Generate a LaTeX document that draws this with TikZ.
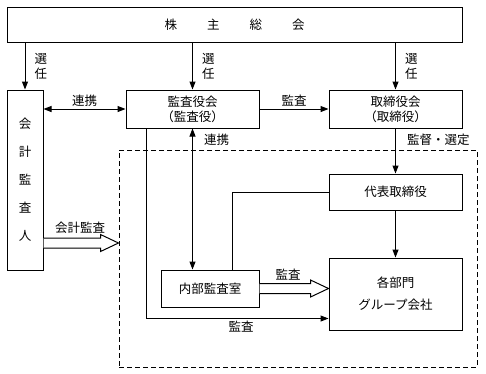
\documentclass[tikz,border=0pt]{standalone}
\usepackage{fontspec}
\setmainfont{Noto Sans CJK JP}
\usetikzlibrary{arrows.meta,positioning,calc}

% hollow (outlined) arrow from #1 to tip #2
\newcommand{\HollowArrow}[2]{%
  \draw[line width=1pt,fill=white,line join=miter]
    ($(#1)+(0,-5)$) -- ($(#2)+(-18,-5)$) -- ($(#2)+(-18,-8.5)$) -- (#2)
    -- ($(#2)+(-18,8.5)$) -- ($(#2)+(-18,5)$) -- ($(#1)+(0,5)$);}

\begin{document}
\begin{tikzpicture}[x=1pt,y=-1pt,font=\fontsize{12.5}{15}\selectfont,
    box/.style={draw,line width=1pt,inner sep=0pt,align=center},
    lbl/.style={align=center,inner sep=2pt},
    conn/.style={line width=1pt,-{Triangle[length=8pt,width=6pt]}},
    both/.style={line width=1pt,{Triangle[length=8pt,width=6pt]}-{Triangle[length=8pt,width=6pt]}}]

	\useasboundingbox (0,0) rectangle (486,373);

	% boxes
	\node[box,minimum width=455pt,minimum height=35pt] (GM) at (234.5,24.5)
		{株\hspace{30pt}主\hspace{30pt}総\hspace{30pt}会};
	\node[box,minimum width=36pt,minimum height=180pt,font=\fontsize{12.5}{28}\selectfont] (Auditor) at (25,180)
		{会\\計\\監\\査\\人};
	\node[box,minimum width=133pt,minimum height=38pt] (Kansayaku) at (192.5,109) {監査役会\\（監査役）};
	\node[box,minimum width=133pt,minimum height=38pt] (Board) at (395.5,109) {取締役会\\（取締役）};
	\node[draw,dashed,dash pattern=on 5pt off 3pt,line width=1pt,minimum width=358pt,minimum height=217pt] (Group) at (298,258.5) {};
	\node[box,minimum width=133pt,minimum height=36pt] (CEO) at (395.5,192) {代表取締役};
	\node[box,minimum width=133pt,minimum height=72pt,font=\fontsize{12.5}{22}\selectfont] (Depts) at (395.5,294) {各部門\\グループ会社};
	\node[box,minimum width=98pt,minimum height=37pt] (Internal) at (210,288.5) {内部監査室};

	% appointment
	\draw[conn] (GM.south -| Auditor.north) -- node[lbl,right=7pt] (Sel1) {選\\任} (Auditor.north);
	\draw[conn] (GM.south -| Kansayaku.north) -- node[lbl,right=7pt] (Sel2) {選\\任} (Kansayaku.north);
	\draw[conn] (GM.south -| Board.north) -- node[lbl,right=7pt] (Sel3) {選\\任} (Board.north);

	% cooperation / audit
	\draw[both] (Auditor.east |- Kansayaku.west) -- node[lbl,above=0pt] (Coop1) {連携} (Kansayaku.west);
	\draw[conn] (Kansayaku.east) -- node[lbl,above=0pt] (Aud1) {監査} (Board.west);
	\draw[conn] (Board.south) -- node[lbl,pos=0.25,right=9pt] (Sup) {監督・選定} (CEO.north);
	\draw[conn] (CEO.south) -- (Depts.north);
	\draw[line width=1pt] (CEO.west) -| ($(Internal.north)+(22,0)$);
	\draw[both] (Kansayaku.south) -- node[lbl,pos=0.08,right=9pt] (Coop2) {連携} (Kansayaku.south |- Internal.north);
	\draw[conn] ($(Kansayaku.south west)+(21,0)$) |- node[lbl,pos=0.76,below=0pt] (Aud2) {監査} ($(Depts.south west)+(0,-12)$);

	% hollow arrows
	\coordinate (AcctTip) at (Group.west |- 0,243);
	\coordinate (AcctStart) at (Auditor.east |- AcctTip);
	\HollowArrow{AcctStart}{AcctTip}
	\node[lbl] (AcctLbl) at ($(AcctStart)!0.5!(AcctTip)+(-1,-15)$) {会計監査};
	\coordinate (IntTip) at (Depts.west |- Internal.east);
	\HollowArrow{Internal.east}{IntTip}
	\node[lbl] (IntLbl) at ($(Internal.east)!0.5!(IntTip)+(-6,-14)$) {監査};
\end{tikzpicture}
\end{document}
